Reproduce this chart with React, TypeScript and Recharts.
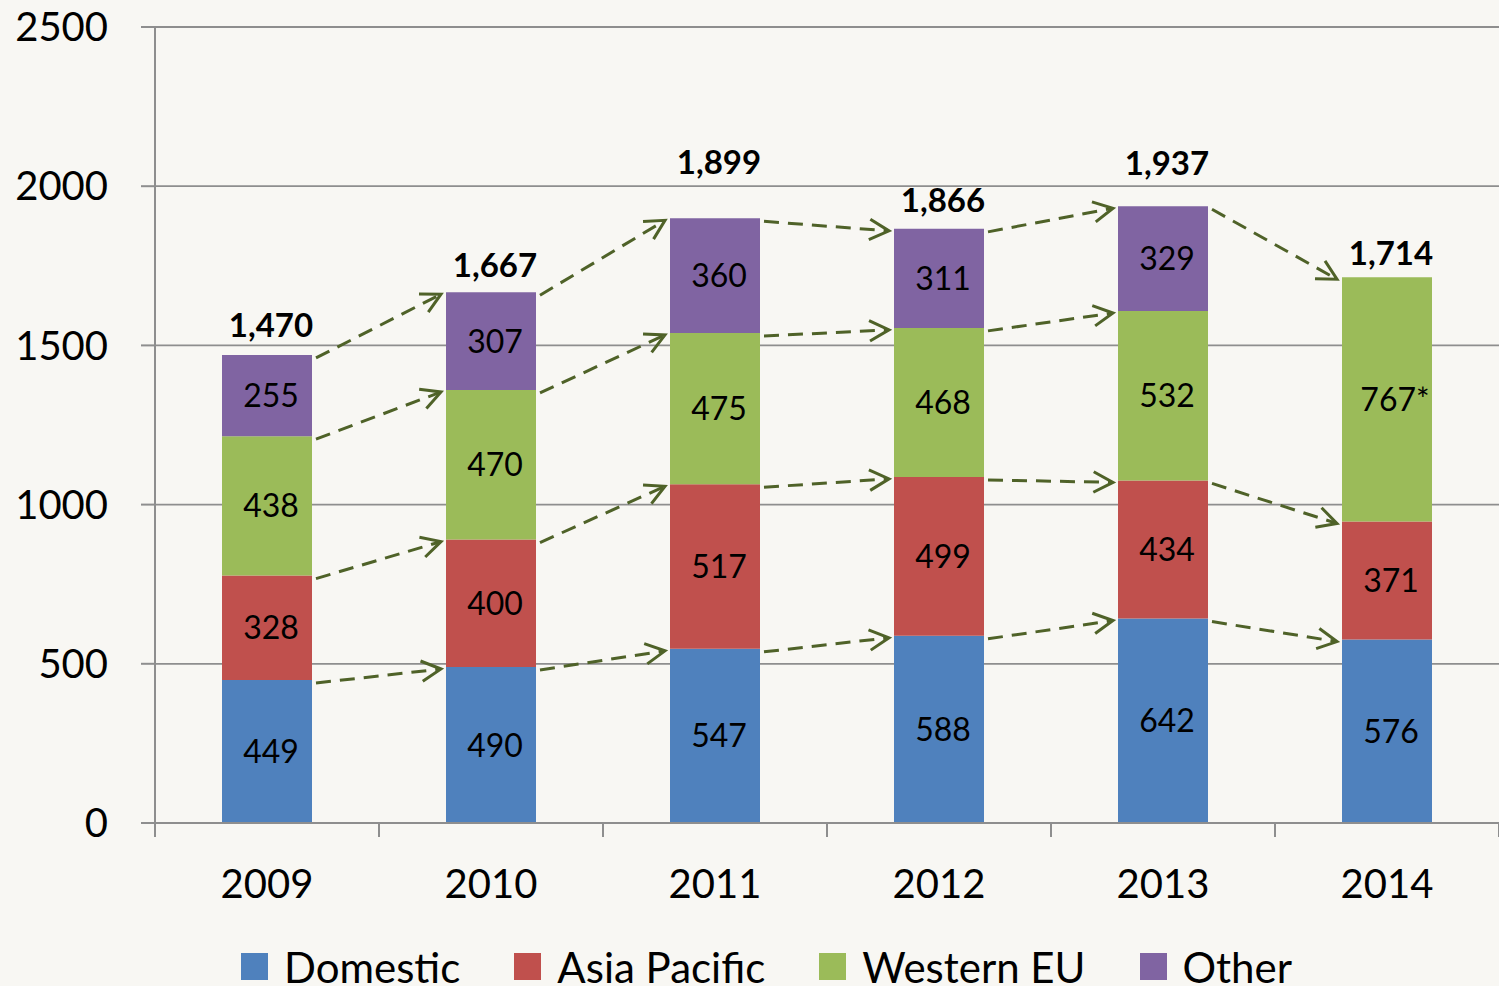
import React from 'react';
import {
  ComposedChart,
  Bar,
  Line,
  XAxis,
  YAxis,
  CartesianGrid,
  Legend,
  LabelList,
  ReferenceLine,
} from 'recharts';

// ---------- data ----------
const years = ['2009', '2010', '2011', '2012', '2013', '2014'];
const domestic = [449, 490, 547, 588, 642, 576];
const asiaPacific = [328, 400, 517, 499, 434, 371];
const westernEU = [438, 470, 475, 468, 532, 767];
const other: (number | null)[] = [255, 307, 360, 311, 329, null];
const totals = [1470, 1667, 1899, 1866, 1937, 1714];
const westernEUNotes = ['', '', '', '', '', '*'];
const yTicks = [0, 500, 1000, 1500, 2000, 2500];

const series = [
  { key: 'domestic', name: 'Domestic', color: '#4F81BD', values: domestic, notes: null as string[] | null },
  { key: 'asiaPacific', name: 'Asia Pacific', color: '#C0504D', values: asiaPacific, notes: null },
  { key: 'westernEU', name: 'Western EU', color: '#9BBB59', values: westernEU, notes: westernEUNotes },
  { key: 'other', name: 'Other', color: '#8064A2', values: other, notes: null },
];

const data = years.map((year, i) => {
  const row: any = { year, total: totals[i] };
  series.forEach((s) => {
    row[s.key] = s.values[i] ?? 0;
  });
  return row;
});

// stack tops (cumulative) for each year, only for present segments
const stackTops = years.map((_, i) => {
  let sum = 0;
  const tops: number[] = [];
  series.forEach((s) => {
    const v = s.values[i];
    if (v != null && v > 0) {
      sum += v;
      tops.push(sum);
    }
  });
  return tops;
});

const arrows: { from: string; fromY: number; to: string; toY: number }[] = [];
for (let i = 0; i < years.length - 1; i++) {
  const a = stackTops[i];
  const b = stackTops[i + 1];
  const m = Math.min(a.length, b.length);
  for (let k = 0; k < m - 1; k++) {
    arrows.push({ from: years[i], fromY: a[k], to: years[i + 1], toY: b[k] });
  }
  arrows.push({ from: years[i], fromY: a[a.length - 1], to: years[i + 1], toY: b[b.length - 1] });
}

// ---------- styles ----------
const FONT = 'Lato, "Open Sans", sans-serif';
const BAR_SIZE = 90;
const ARROW_COLOR = '#4F6228';
const AXIS_COLOR = '#8E8E8E';
const BG = '#F8F7F3';
const LEGEND_H = 52;
const XAXIS_H = 163 - LEGEND_H;
const X_TICK_MARGIN = 47;
const X_TICK_LEN = 14;
// vertical lift (px) of each total label above its bar, as placed in the reference
const TOTAL_LABEL_LIFT = [18, 15, 44, 17, 31, 12];

const ArrowShape = (props: any) => {
  const { x1, y1, x2, y2 } = props;
  if ([x1, y1, x2, y2].some((v) => v == null || isNaN(v))) return null;
  const sx = x1 + BAR_SIZE / 2 + 4;
  const sy = y1 + 3;
  const ex = x2 - BAR_SIZE / 2 - 5;
  const ey = y2 + 2;
  const ang = Math.atan2(ey - sy, ex - sx);
  const L = 22;
  const A = Math.PI / 6.5;
  const p1 = [ex - L * Math.cos(ang - A), ey - L * Math.sin(ang - A)];
  const p2 = [ex - L * Math.cos(ang + A), ey - L * Math.sin(ang + A)];
  return (
    <g>
      <line
        x1={sx}
        y1={sy}
        x2={ex - 2 * Math.cos(ang)}
        y2={ey - 2 * Math.sin(ang)}
        stroke={ARROW_COLOR}
        strokeWidth={3}
        strokeDasharray="15 9"
      />
      <polyline
        points={`${p1[0]},${p1[1]} ${ex},${ey} ${p2[0]},${p2[1]}`}
        fill="none"
        stroke={ARROW_COLOR}
        strokeWidth={3}
      />
    </g>
  );
};

const makeSegmentLabel = (notes: string[] | null) => (props: any) => {
  const { x, y, width, height, value, index } = props;
  if (!value) return null;
  const cx = x + width / 2 + 4;
  const fs = 32;
  const cy = y + height / 2 + 0.36 * fs;
  const note = notes ? notes[index] : '';
  return (
    <text x={cx + (note ? 4 : 0)} y={cy} textAnchor="middle" fontFamily={FONT} fontSize={fs} fill="#000">
      {`${value}${note || ''}`}
    </text>
  );
};

const TotalLabel = (props: any) => {
  const { x, y, value, index } = props;
  if (value == null) return null;
  return (
    <text
      x={x + 4}
      y={y - (TOTAL_LABEL_LIFT[index] ?? 16)}
      textAnchor="middle"
      fontFamily={FONT}
      fontWeight={700}
      fontSize={33}
      fill="#000"
    >
      {Number(value).toLocaleString('en-US')}
    </text>
  );
};

// category tick: year label plus tick marks on the band boundaries
const YearTick = (props: any) => {
  const { x, y, payload, index, visibleTicksCount } = props;
  const half = payload && payload.offset ? payload.offset : 0;
  const axisY = y - X_TICK_MARGIN;
  const last = index === (visibleTicksCount ?? years.length) - 1;
  return (
    <g>
      <line x1={x - half} y1={axisY} x2={x - half} y2={axisY + X_TICK_LEN} stroke={AXIS_COLOR} strokeWidth={2} />
      {last ? (
        <line x1={x + half} y1={axisY} x2={x + half} y2={axisY + X_TICK_LEN} stroke={AXIS_COLOR} strokeWidth={2} />
      ) : null}
      <text x={x} y={y} dy="0.71em" textAnchor="middle" fontFamily={FONT} fontSize={40} fill="#000">
        {payload.value}
      </text>
    </g>
  );
};

const LegendContent = () => (
  <div
    style={{
      height: LEGEND_H,
      boxSizing: 'border-box',
      paddingLeft: 241,
      paddingTop: 13,
      display: 'flex',
      alignItems: 'center',
      fontFamily: FONT,
      fontSize: 42,
      color: '#000',
      lineHeight: 1,
    }}
  >
    {series.map((s) => (
      <div key={s.key} style={{ display: 'flex', alignItems: 'center', marginRight: 54 }}>
        <div style={{ width: 27, height: 27, background: s.color, marginRight: 16 }} />
        <span style={{ whiteSpace: 'nowrap' }}>{s.name}</span>
      </div>
    ))}
  </div>
);

export default function App() {
  return (
    <div style={{ position: 'absolute', left: 0, top: 0, width: 1499, height: 986, background: BG, overflow: 'hidden' }}>
      <ComposedChart
        width={1499}
        height={986}
        data={data}
        margin={{ top: 27, right: 0, left: 0, bottom: 0 }}
        barSize={BAR_SIZE}
      >
        <CartesianGrid
          xAxisId="cat"
          vertical={false}
          stroke={AXIS_COLOR}
          strokeWidth={1.8}
        />
        <XAxis
          xAxisId="cat"
          dataKey="year"
          tickLine={false}
          tickSize={0}
          tickMargin={X_TICK_MARGIN}
          axisLine={{ stroke: AXIS_COLOR, strokeWidth: 2 }}
          tick={<YearTick />}
          interval={0}
          height={XAXIS_H}
        />
        <YAxis
          domain={[0, 2500]}
          ticks={yTicks}
          width={155}
          tickSize={14}
          tickMargin={33}
          tickLine={{ stroke: AXIS_COLOR, strokeWidth: 2 }}
          axisLine={{ stroke: AXIS_COLOR, strokeWidth: 2 }}
          tick={{ fontFamily: FONT, fontSize: 40, fill: '#000' }}
          interval={0}
        />
        <Legend verticalAlign="bottom" content={<LegendContent />} wrapperStyle={{ left: 0, width: 1499 }} />
        {series.map((s) => (
          <Bar
            key={s.key}
            xAxisId="cat"
            dataKey={s.key}
            name={s.name}
            stackId="a"
            fill={s.color}
            isAnimationActive={false}
          >
            <LabelList dataKey={s.key} content={makeSegmentLabel(s.notes)} />
          </Bar>
        ))}
        <Line
          xAxisId="cat"
          dataKey="total"
          stroke="none"
          dot={false}
          activeDot={false}
          legendType="none"
          isAnimationActive={false}
        >
          <LabelList dataKey="total" content={TotalLabel} />
        </Line>
        {arrows.map((a, i) => (
          <ReferenceLine
            key={i}
            xAxisId="cat"
            segment={[
              { x: a.from, y: a.fromY },
              { x: a.to, y: a.toY },
            ]}
            shape={ArrowShape}
            ifOverflow="visible"
          />
        ))}
      </ComposedChart>
    </div>
  );
}
